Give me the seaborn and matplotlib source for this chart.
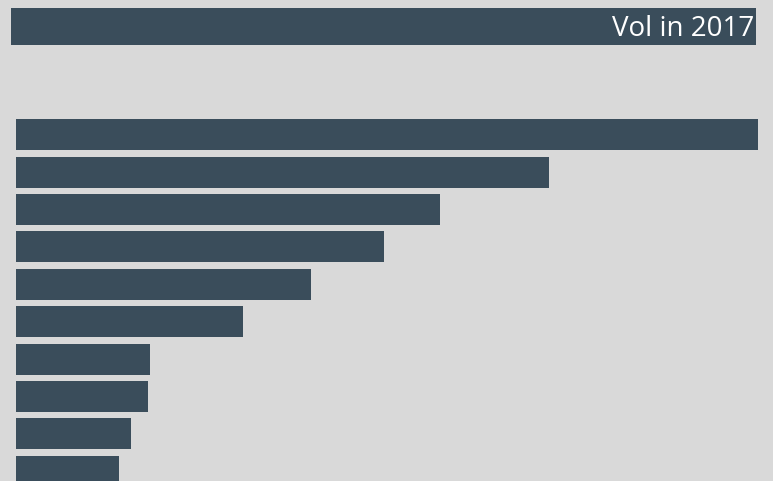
import matplotlib
matplotlib.use("Agg")
import matplotlib.pyplot as plt
import seaborn as sns
import pandas as pd
from matplotlib.patches import Rectangle

categories = ["A", "B", "C", "D", "E", "F", "G", "H", "I", "J"]
volumes = [742, 533, 424, 368, 295, 227, 134, 132, 115, 103]
title_text = "Vol in 2017"

BG = "#d9d9d9"
BAR = "#3a4d5b"
W, H = 773, 481

sns.set_theme(style="white")
plt.rcParams["font.family"] = ["Open Sans", "DejaVu Sans"]

fig = plt.figure(figsize=((W + 0.2) / 100, (H + 0.2) / 100), dpi=100, facecolor=BG)

# title bar
fig.patches.append(Rectangle((11 / W, 1 - 45.5 / H), (756 - 11) / W, (45.5 - 8) / H,
                             transform=fig.transFigure, facecolor=BAR,
                             edgecolor="none", zorder=0))
fig.text(754 / W, 1 - 29 / H, title_text, ha="right", va="center",
         color="white", fontsize=20)

top_px = 60
ax = fig.add_axes([16 / W, 0, (758 - 16) / W, 1 - top_px / H])
ax.set_facecolor(BG)

df = pd.DataFrame({"cat": categories, "vol": volumes})
sns.barplot(data=df, x="vol", y="cat", orient="h", color=BAR, saturation=1,
            width=31 / 37.4, linewidth=0, edgecolor="none", ax=ax)

pitch = 37.4
c0 = 134.8
ax.set_ylim((H - c0) / pitch, (top_px - c0) / pitch)
ax.set_xlim(0, max(volumes))
ax.set_axis_off()

fig.savefig("out.png", dpi=100, facecolor=BG)
